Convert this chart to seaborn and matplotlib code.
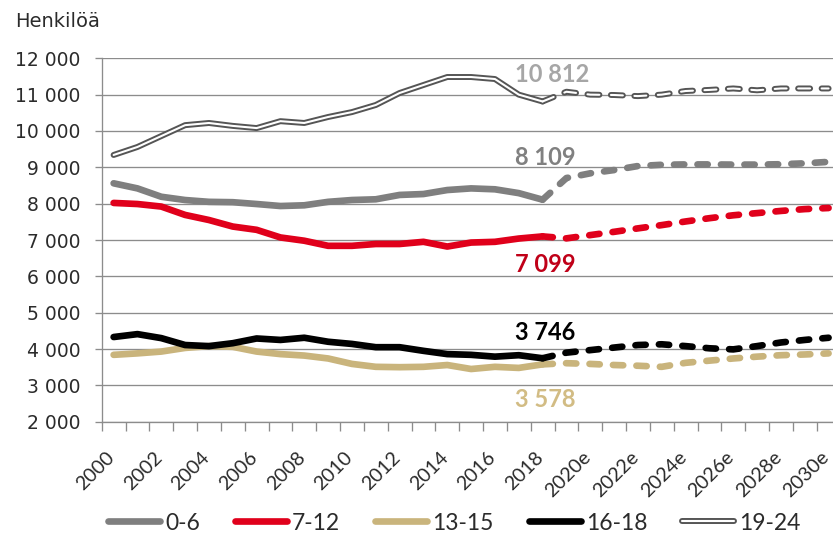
import numpy as np
import pandas as pd
import matplotlib
matplotlib.use("Agg")
import matplotlib.pyplot as plt
import matplotlib.transforms as mtransforms
import seaborn as sns
from matplotlib.lines import Line2D

# ---------------- data ----------------
years = ["2000", "2001", "2002", "2003", "2004", "2005", "2006", "2007", "2008",
         "2009", "2010", "2011", "2012", "2013", "2014", "2015", "2016", "2017",
         "2018", "2019e", "2020e", "2021e", "2022e", "2023e", "2024e", "2025e",
         "2026e", "2027e", "2028e", "2029e", "2030e"]

age_0_6_actual = [8560, 8420, 8190, 8100, 8050, 8040, 7990, 7935, 7955, 8050,
                  8100, 8120, 8240, 8265, 8375, 8420, 8395, 8290, 8109]
age_0_6_forecast = [8705, 8835, 8925, 9035, 9070, 9080, 9080, 9075, 9075,
                    9085, 9110, 9150]

age_7_12_actual = [8020, 7990, 7920, 7690, 7550, 7370, 7280, 7070, 6980, 6840,
                   6840, 6890, 6890, 6950, 6820, 6930, 6950, 7040, 7099]
age_7_12_forecast = [7045, 7135, 7225, 7320, 7410, 7510, 7600, 7680, 7740,
                     7800, 7850, 7880]

age_13_15_actual = [3840, 3880, 3930, 4030, 4080, 4060, 3930, 3860, 3820, 3740,
                    3590, 3510, 3500, 3510, 3560, 3450, 3510, 3480, 3578]
age_13_15_forecast = [3610, 3590, 3560, 3540, 3510, 3620, 3680, 3740, 3790,
                      3830, 3850, 3880]

age_16_18_actual = [4330, 4410, 4300, 4110, 4080, 4160, 4290, 4250, 4310, 4200,
                    4140, 4050, 4050, 3950, 3860, 3840, 3790, 3830, 3746]
age_16_18_forecast = [3900, 3970, 4040, 4110, 4130, 4080, 4020, 3990, 4080,
                      4180, 4250, 4310]

age_19_24_actual = [9340, 9560, 9860, 10160, 10220, 10140, 10080, 10270, 10220,
                    10385, 10520, 10715, 11045, 11265, 11485, 11485, 11430,
                    11000, 10812]
age_19_24_forecast = [11080, 11000, 10990, 10960, 11000, 11100, 11130, 11170,
                      11120, 11170, 11170, 11170]

series_names = ["0-6", "7-12", "13-15", "16-18", "19-24"]
label_texts = ["10 812", "8 109", "7 099", "3 746", "3 578"]
y_ticks = [2000, 3000, 4000, 5000, 6000, 7000, 8000, 9000, 10000, 11000, 12000]

# ---------------- style ----------------
sns.set_style("white")
plt.rcParams["font.family"] = ["DejaVu Sans"]
plt.rcParams["lines.scale_dashes"] = False

GRID = "#8c8c8c"
TXT = "#2b2b2b"
colors = {"0-6": "#7f7f7f", "7-12": "#e0001b", "13-15": "#c9b47c",
          "16-18": "#000000", "19-24": "#555555"}

fig = plt.figure(figsize=(8.33, 5.35), dpi=100)
ax = fig.add_axes([101.7 / 833, 1 - 421.7 / 535, (840.5 - 101.7) / 833,
                   (421.7 - 58.3) / 535])

n_act = len(age_0_6_actual)
x_all = np.arange(len(years))
x_act = x_all[:n_act]
x_fc = x_all[n_act - 1:]

LW = 4.8
DASH = (0, (7.4, 9.5))

data = {
    "0-6": (age_0_6_actual, age_0_6_forecast),
    "7-12": (age_7_12_actual, age_7_12_forecast),
    "13-15": (age_13_15_actual, age_13_15_forecast),
    "16-18": (age_16_18_actual, age_16_18_forecast),
}

for name in ["0-6", "7-12", "13-15", "16-18"]:
    act, fc = data[name]
    col = colors[name]
    df_a = pd.DataFrame({"x": x_act, "y": act})
    df_f = pd.DataFrame({"x": x_fc, "y": [act[-1]] + fc})
    sns.lineplot(data=df_a, x="x", y="y", ax=ax, color=col, linewidth=LW,
                 solid_capstyle="round", solid_joinstyle="round",
                 errorbar=None, legend=False, zorder=3)
    sns.lineplot(data=df_f, x="x", y="y", ax=ax, color=col, linewidth=LW,
                 linestyle=DASH, dash_capstyle="round", dash_joinstyle="round",
                 errorbar=None, legend=False, zorder=3)

# 19-24 : double line (dark outline + white core)
OUT_LW, IN_LW = 4.3, 1.5
df_a = pd.DataFrame({"x": x_act, "y": age_19_24_actual})
df_f = pd.DataFrame({"x": x_fc, "y": [age_19_24_actual[-1]] + age_19_24_forecast})
DASH2 = (0, (8.6, 8.3))
for lw, col, z in [(OUT_LW, colors["19-24"], 3), (IN_LW, "white", 4)]:
    sns.lineplot(data=df_a, x="x", y="y", ax=ax, color=col, linewidth=lw,
                 solid_capstyle="round", solid_joinstyle="round",
                 errorbar=None, legend=False, zorder=z)
    sns.lineplot(data=df_f, x="x", y="y", ax=ax, color=col, linewidth=lw,
                 linestyle=DASH2, dash_capstyle="round", dash_joinstyle="round",
                 errorbar=None, legend=False, zorder=z)

# ---------------- axes ----------------
ax.set_xlim(-0.5, len(years) - 0.5)
ax.set_ylim(2000, 12000)
ax.set_xlabel("")
ax.set_ylabel("")
ax.set_yticks(y_ticks)
ax.set_yticklabels([f"{v:,}".replace(",", " ") for v in y_ticks])
ax.grid(axis="y", color=GRID, linewidth=0.95)
ax.grid(axis="x", visible=False)
ax.set_axisbelow(True)
sns.despine(ax=ax)
for s in ["left", "bottom"]:
    ax.spines[s].set_color(GRID)
    ax.spines[s].set_linewidth(0.95)

ax.tick_params(axis="y", left=True, length=5, width=0.95, color=GRID,
               direction="out", pad=10, labelsize=13.5, labelcolor=TXT)
ax.set_xticks(x_all[::2])
ax.set_xticklabels(years[::2], rotation=45, ha="right", va="baseline",
                   rotation_mode="anchor",
                   fontfamily="Lato", fontsize=14.2, color=TXT)
ax.set_xticks(np.arange(-0.5, len(years), 1.0), minor=True)
ax.tick_params(axis="x", which="major", bottom=True, length=0, pad=26.4)
ax.tick_params(axis="x", which="minor", bottom=True, length=6.5, width=0.95,
               color=GRID, direction="out")
shift = mtransforms.ScaledTranslation(1.8 / 100, 0, fig.dpi_scale_trans)
for lab in ax.get_xticklabels():
    lab.set_transform(lab.get_transform() + shift)

# ---------------- value labels ----------------
lab_x = 16.84
lab_cols = ["#a6a6a6", "#808080", "#c00018", "#000000", "#d2bc84"]
lab_y = [11348, 9064, 6119, 4248, 2405]
for t, c, yy in zip(label_texts, lab_cols, lab_y):
    ax.text(lab_x, yy, t, color=c, fontsize=17, fontweight="bold",
            fontfamily="Lato", ha="left", va="baseline", zorder=6)

# ---------------- title ----------------
fig.text(15 / 833, 1 - 27 / 535, "Henkilöä", fontsize=14, color=TXT,
         ha="left", va="baseline", fontfamily="DejaVu Sans")

# ---------------- legend ----------------
handles = []
for name in series_names[:4]:
    handles.append(Line2D([], [], color=colors[name], linewidth=LW,
                          solid_capstyle="round"))
handles.append((Line2D([], [], color=colors["19-24"], linewidth=OUT_LW,
                       solid_capstyle="round"),
                Line2D([], [], color="white", linewidth=IN_LW,
                       solid_capstyle="round")))
leg = fig.legend(handles, series_names, loc="center",
                 bbox_to_anchor=(454.5 / 833, 1 - 523 / 535), ncol=5,
                 frameon=False, prop={"family": "Lato", "size": 16.5},
                 handlelength=2.27, handletextpad=0.22, columnspacing=1.53,
                 borderpad=0, borderaxespad=0)
for t in leg.get_texts():
    t.set_color(TXT)

fig.savefig("out.png", dpi=100)
